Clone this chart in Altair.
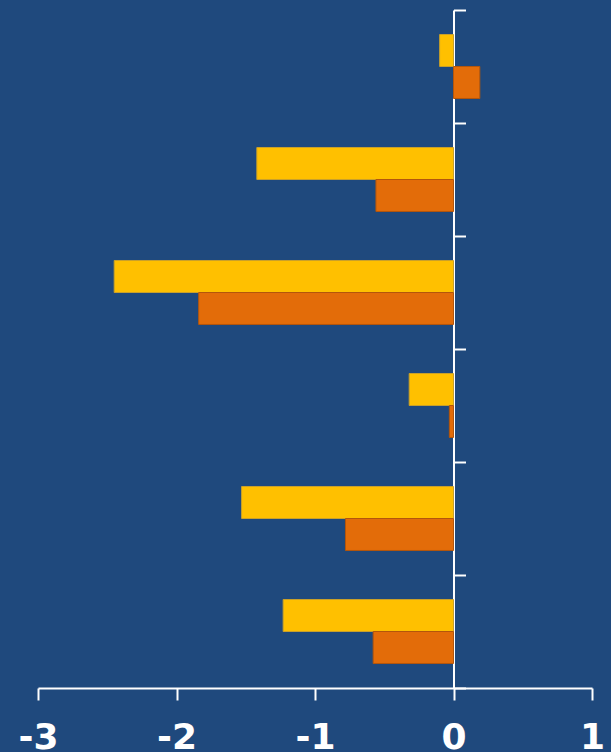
import altair as alt
import pandas as pd

categories = ["C1", "C2", "C3", "C4", "C5", "C6"]
series = ["A", "B"]
values_a = [-0.10, -1.42, -2.45, -0.32, -1.53, -1.23]
values_b = [0.19, -0.56, -1.84, -0.03, -0.78, -0.58]
x_ticks = [-3, -2, -1, 0, 1]

colors = ["#FFC000", "#E36C09"]
strokes = ["#C9A02A", "#B3560C"]

rows = []
for c, a, b in zip(categories, values_a, values_b):
    rows.append({"cat": c, "series": "A", "value": a})
    rows.append({"cat": c, "series": "B", "value": b})
df = pd.DataFrame(rows)

W, H = 554, 678
BG = "#1F497D"

bars = alt.Chart(df).mark_bar(strokeWidth=1).encode(
    x=alt.X(
        "value:Q",
        scale=alt.Scale(domain=[-3, 1], nice=False, zero=False),
        axis=alt.Axis(
            values=x_ticks,
            title=None,
            grid=False,
            domainColor="white",
            domainWidth=2,
            tickColor="white",
            tickWidth=2,
            tickSize=12,
            labelColor="white",
            labelFont="DejaVu Sans",
            labelFontWeight="bold",
            labelFontSize=36,
            labelPadding=20,
            labelExpr="datum.value + ''",
            labelFlush=False,
        ),
    ),
    y=alt.Y(
        "cat:N",
        sort=categories,
        scale=alt.Scale(paddingInner=0, paddingOuter=0),
        axis=alt.Axis(
            orient="right",
            offset=-W / 4,
            title=None,
            labels=False,
            grid=False,
            domainColor="white",
            domainWidth=2,
            tickColor="white",
            tickWidth=2,
            tickSize=12,
            tickBand="extent",
        ),
    ),
    yOffset=alt.YOffset(
        "series:N",
        sort=series,
        scale=alt.Scale(paddingInner=0, paddingOuter=0.766),
    ),
    color=alt.Color("series:N", scale=alt.Scale(domain=series, range=colors), legend=None),
    stroke=alt.Stroke("series:N", scale=alt.Scale(domain=series, range=strokes), legend=None),
)

chart = bars.properties(
    width=W,
    height=H,
    autosize=alt.AutoSizeParams(type="none"),
    padding={"left": 38, "top": 10, "right": 19, "bottom": 64},
    background=BG,
).configure_view(stroke=None)

chart.save("out.html", embed_options={"renderer": "svg", "actions": False})
